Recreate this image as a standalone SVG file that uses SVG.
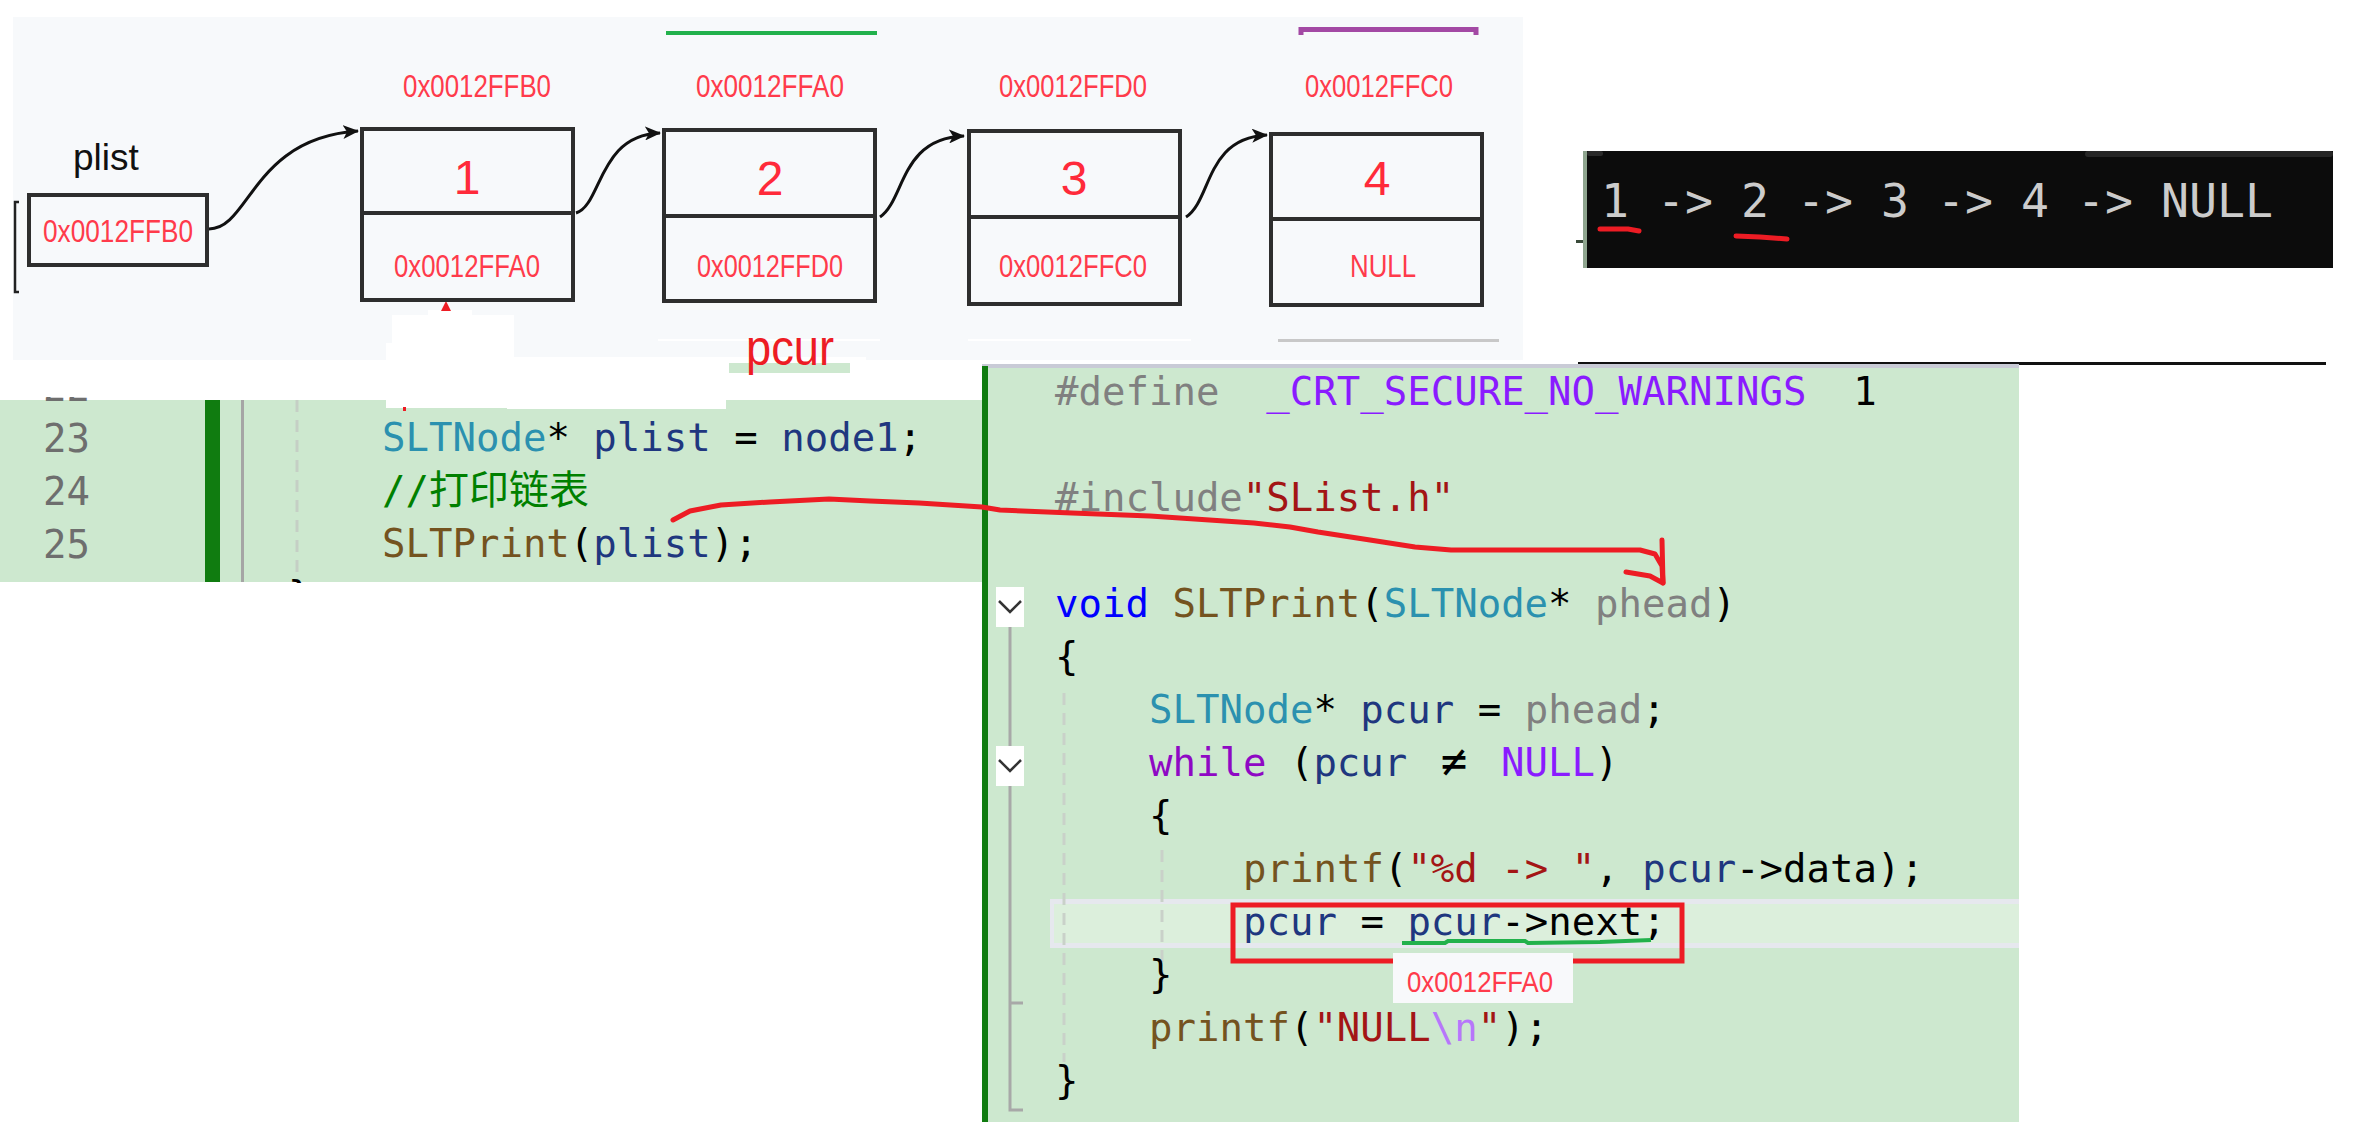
<svg xmlns="http://www.w3.org/2000/svg" width="2356" height="1122" viewBox="0 0 2356 1122">
<defs>
<style>
.addr{font-family:"Liberation Sans",Arial,sans-serif;font-size:31px;fill:#ff3b4b;text-anchor:middle}
.val{font-family:"Liberation Sans",Arial,sans-serif;font-size:48px;fill:#ff2a3a;text-anchor:middle}
.box{fill:none;stroke:#2e2e2e;stroke-width:4}
.code{font-family:"DejaVu Sans Mono","Liberation Mono",monospace;font-size:39px;fill:#000}
.gr{fill:#808080}.mac{fill:#8a1bff}.str{fill:#a31515}.kw{fill:#0000ff}.fn{fill:#74531f}
.ty{fill:#2b91af}.var{fill:#1f377f}.kw2{fill:#8f08c4}.esc{fill:#b776fb}.cm{fill:#008000}
.ln{font-family:"DejaVu Sans Mono","Liberation Mono",monospace;font-size:39px;fill:#6e6e6e;text-anchor:end}
.conn{fill:none;stroke:#111;stroke-width:3}
.red{fill:none;stroke:#ed1c24;stroke-width:5;stroke-linecap:round;stroke-linejoin:round}
</style>
<marker id="ah" viewBox="0 0 16 14" refX="15" refY="7" markerWidth="16" markerHeight="14" markerUnits="userSpaceOnUse" orient="auto">
<path d="M0,0 L16,7 L0,14 L4,7 z" fill="#111"/>
</marker>
<clipPath id="leftclip"><rect x="0" y="397" width="982" height="186"/></clipPath>
</defs>
<rect width="2356" height="1122" fill="#ffffff"/>

<!-- top panel -->
<g id="panel">
<rect x="13" y="17" width="1510" height="343" fill="#f7f9fb"/>
<rect x="658" y="339" width="222" height="2" fill="#ffffff"/>
<rect x="968" y="339" width="223" height="2" fill="#ffffff"/>
<rect x="1278" y="339" width="221" height="3" fill="#c8c8c8"/>
<rect x="666" y="31" width="211" height="4" fill="#22b14c"/>
<path d="M1301,35 L1301,29.5 L1476,29.5 L1476,35" fill="none" stroke="#a349a4" stroke-width="5"/>
<path d="M19,202 L15,202 L15,292 L19,292" fill="none" stroke="#222" stroke-width="2.5"/>
</g>

<!-- left code panel -->
<g id="left-code">
<rect x="0" y="400" width="982" height="182" fill="#cde8cf"/>
<rect x="205" y="400" width="15" height="182" fill="#107c10"/>
<rect x="241" y="400" width="3" height="182" fill="#a5a5a5"/>
<line x1="297" y1="400" x2="297" y2="582" stroke="#c5cfc5" stroke-width="3" stroke-dasharray="12 8"/>
<g clip-path="url(#leftclip)">
<text class="ln" x="90" y="401">22</text>
<text class="code" x="288" y="609">}</text>
</g>
<text class="ln" x="90" y="452">23</text>
<text class="ln" x="90" y="505">24</text>
<text class="ln" x="90" y="558">25</text>
<text class="code" x="382" y="451" xml:space="preserve"><tspan class="ty">SLTNode</tspan>* <tspan class="var">plist</tspan> = <tspan class="var">node1</tspan>;</text>
<text class="code" x="382" y="504" xml:space="preserve"><tspan class="cm">//</tspan><tspan class="cm" style="font-family:'Noto Sans CJK SC',sans-serif;font-size:40px">打印链表</tspan></text>
<text class="code" x="382" y="557" xml:space="preserve"><tspan class="fn">SLTPrint</tspan>(<tspan class="var">plist</tspan>);</text>
</g>

<!-- white cover patches -->
<g id="patches">
<rect x="428" y="310" width="44" height="6" fill="#ffffff"/>
<rect x="392" y="315" width="122" height="50" fill="#ffffff"/>
<rect x="386" y="343" width="121" height="65" fill="#ffffff"/>
<rect x="507" y="357" width="219" height="52" fill="#ffffff"/>
<rect x="726" y="357" width="140" height="6" fill="#ffffff"/>
<rect x="729" y="363" width="121" height="10" fill="#cde8cf"/>
<rect x="403" y="407" width="3" height="4" fill="#ed1c24"/>
<polygon points="441,311 446,301 451,311" fill="#ed1c24"/>
</g>

<!-- plist -->
<g id="plist">
<text x="73" y="170" style="font-family:'Liberation Sans',Arial,sans-serif;font-size:37px;fill:#111">plist</text>
<rect class="box" x="29" y="195" width="178" height="70"/>
<text class="addr" x="118" y="242" textLength="150" lengthAdjust="spacingAndGlyphs">0x0012FFB0</text>
</g>

<g id="node1">
<text class="addr" x="477" y="97" textLength="148" lengthAdjust="spacingAndGlyphs">0x0012FFB0</text>
<rect class="box" x="362" y="129" width="211" height="171"/>
<line x1="362" y1="213" x2="573" y2="213" stroke="#2e2e2e" stroke-width="4"/>
<text class="val" x="467" y="194">1</text>
<text class="addr" x="467" y="277" textLength="146" lengthAdjust="spacingAndGlyphs">0x0012FFA0</text>
</g>
<g id="node2">
<text class="addr" x="770" y="97" textLength="148" lengthAdjust="spacingAndGlyphs">0x0012FFA0</text>
<rect class="box" x="664" y="130" width="211" height="171"/>
<line x1="664" y1="216" x2="875" y2="216" stroke="#2e2e2e" stroke-width="4"/>
<text class="val" x="770" y="195">2</text>
<text class="addr" x="770" y="277" textLength="146" lengthAdjust="spacingAndGlyphs">0x0012FFD0</text>
</g>
<g id="node3">
<text class="addr" x="1073" y="97" textLength="148" lengthAdjust="spacingAndGlyphs">0x0012FFD0</text>
<rect class="box" x="969" y="131" width="211" height="173"/>
<line x1="969" y1="217" x2="1180" y2="217" stroke="#2e2e2e" stroke-width="4"/>
<text class="val" x="1074" y="195">3</text>
<text class="addr" x="1073" y="277" textLength="148" lengthAdjust="spacingAndGlyphs">0x0012FFC0</text>
</g>
<g id="node4">
<text class="addr" x="1379" y="97" textLength="148" lengthAdjust="spacingAndGlyphs">0x0012FFC0</text>
<rect class="box" x="1271" y="134" width="211" height="171"/>
<line x1="1271" y1="219" x2="1482" y2="219" stroke="#2e2e2e" stroke-width="4"/>
<text class="val" x="1377" y="195">4</text>
<text class="addr" x="1383" y="277" textLength="66" lengthAdjust="spacingAndGlyphs">NULL</text>
</g>

<g id="connectors">
<path class="conn" d="M209,229 C250,229 252,138 358,131" marker-end="url(#ah)"/>
<path class="conn" d="M576,213 C602,205 598,135 660,133" marker-end="url(#ah)"/>
<path class="conn" d="M880,217 C905,200 900,138 964,136" marker-end="url(#ah)"/>
<path class="conn" d="M1186,217 C1212,200 1205,138 1267,135" marker-end="url(#ah)"/>
</g>

<g id="pcur-label">
<text x="746" y="365" textLength="88" lengthAdjust="spacingAndGlyphs" style="font-family:'Liberation Sans',Arial,sans-serif;font-size:50px;fill:#ed1c24">pcur</text>
</g>

<!-- terminal -->
<g id="terminal">
<rect x="1583" y="151" width="4" height="117" fill="#8fa58f"/>
<rect x="1587" y="151" width="746" height="117" fill="#0c0c0c"/>
<rect x="1587" y="151" width="16" height="5" rx="2" fill="#2a2a2a"/>
<rect x="2085" y="151" width="248" height="6" rx="3" fill="#262626"/>
<rect x="1576" y="240" width="7" height="3" fill="#3a4a3a"/>
<text x="1601" y="217" style="font-family:'DejaVu Sans Mono',monospace;font-size:46.5px;fill:#cccccc" xml:space="preserve">1 -&gt; 2 -&gt; 3 -&gt; 4 -&gt; NULL</text>
<path class="red" d="M1600,229 L1628,229 L1639,231"/>
<path class="red" d="M1736,236 L1760,237 L1787,239"/>
</g>
<rect x="1578" y="362" width="748" height="3" fill="#111"/>

<!-- right code panel -->
<g id="right-code">
<rect x="982" y="364" width="1037" height="4" fill="#c9cbd6"/>
<rect x="982" y="368" width="1037" height="754" fill="#cde8cf"/>
<rect x="982" y="366" width="6" height="756" fill="#107c10"/>
<rect x="1050" y="899" width="969" height="49" fill="#dcefdc"/>
<rect x="1050" y="899" width="969" height="5" fill="#e6e8ee"/>
<rect x="1050" y="943" width="969" height="5" fill="#e6e8ee"/>
<rect x="1050" y="899" width="4" height="49" fill="#e6e8ee"/>
<line x1="1064" y1="693" x2="1064" y2="1062" stroke="#c9d1c9" stroke-width="3" stroke-dasharray="12 8"/>
<line x1="1162" y1="850" x2="1162" y2="988" stroke="#c9d1c9" stroke-width="3" stroke-dasharray="12 8"/>
<path d="M1010,627 V746 M1010,786 V1110 H1023 M1010,1003 H1023" fill="none" stroke="#a8a8a8" stroke-width="3"/>
<rect x="996" y="587" width="28" height="40" fill="#ffffff"/>
<path d="M999,601 L1010,612 L1021,601" fill="none" stroke="#333" stroke-width="2.5"/>
<rect x="996" y="746" width="28" height="40" fill="#ffffff"/>
<path d="M999,760 L1010,771 L1021,760" fill="none" stroke="#333" stroke-width="2.5"/>

<text class="code" x="1055" y="405" xml:space="preserve"><tspan class="gr">#define</tspan><tspan class="mac">  _CRT_SECURE_NO_WARNINGS</tspan>  1</text>
<text class="code" x="1055" y="511" xml:space="preserve"><tspan class="gr">#include</tspan><tspan class="str">"SList.h"</tspan></text>
<text class="code" x="1055" y="617" xml:space="preserve"><tspan class="kw">void</tspan> <tspan class="fn">SLTPrint</tspan>(<tspan class="ty">SLTNode</tspan>* <tspan class="gr">phead</tspan>)</text>
<text class="code" x="1055" y="670">{</text>
<text class="code" x="1149" y="723" xml:space="preserve"><tspan class="ty">SLTNode</tspan>* <tspan class="var">pcur</tspan> = <tspan class="gr">phead</tspan>;</text>
<text class="code" x="1149" y="776" xml:space="preserve"><tspan class="kw2">while</tspan> (<tspan class="var">pcur</tspan></text>
<text class="code" x="1454" y="776" text-anchor="middle" style="font-size:44px">≠</text>
<text class="code" x="1501" y="776" xml:space="preserve"><tspan class="mac">NULL</tspan>)</text>
<text class="code" x="1149" y="829">{</text>
<text class="code" x="1243" y="882" xml:space="preserve"><tspan class="fn">printf</tspan>(<tspan class="str">"%d -&gt; "</tspan>, <tspan class="var">pcur</tspan>-&gt;data);</text>
<text class="code" x="1243" y="935" xml:space="preserve"><tspan class="var">pcur</tspan> = <tspan class="var">pcur</tspan>-&gt;next;</text>
<text class="code" x="1149" y="988">}</text>
<text class="code" x="1149" y="1041" xml:space="preserve"><tspan class="fn">printf</tspan>(<tspan class="str">"NULL</tspan><tspan class="esc">\n</tspan><tspan class="str">"</tspan>);</text>
<text class="code" x="1055" y="1094">}</text>

<rect x="1233" y="905" width="449" height="56" fill="none" stroke="#ed1c24" stroke-width="5"/>
<path d="M1402,943 L1445,943 L1448,941 L1525,941 L1528,943 L1600,942 L1651,940" fill="none" stroke="#22b14c" stroke-width="4"/>
<rect x="1393" y="953" width="180" height="50" fill="#f8f9fb"/>
<text class="addr" x="1480" y="992" style="font-size:30px" textLength="146" lengthAdjust="spacingAndGlyphs">0x0012FFA0</text>
</g>

<!-- hand-drawn red arrow -->
<g id="red-arrow">
<path class="red" d="M673,520 L690,511 L721,505 L770,502 L829,499 L870,501 L919,503 L982,507 L1000,510 L1072,513 L1150,516 L1254,523 L1290,527 L1318,532 L1370,540 L1415,547 L1451,550 L1640,550 L1655,554 L1662,566 L1663,583"/>
<path class="red" d="M1662,540 L1663,583 M1626,572 L1650,576 L1663,583"/>
</g>
</svg>
